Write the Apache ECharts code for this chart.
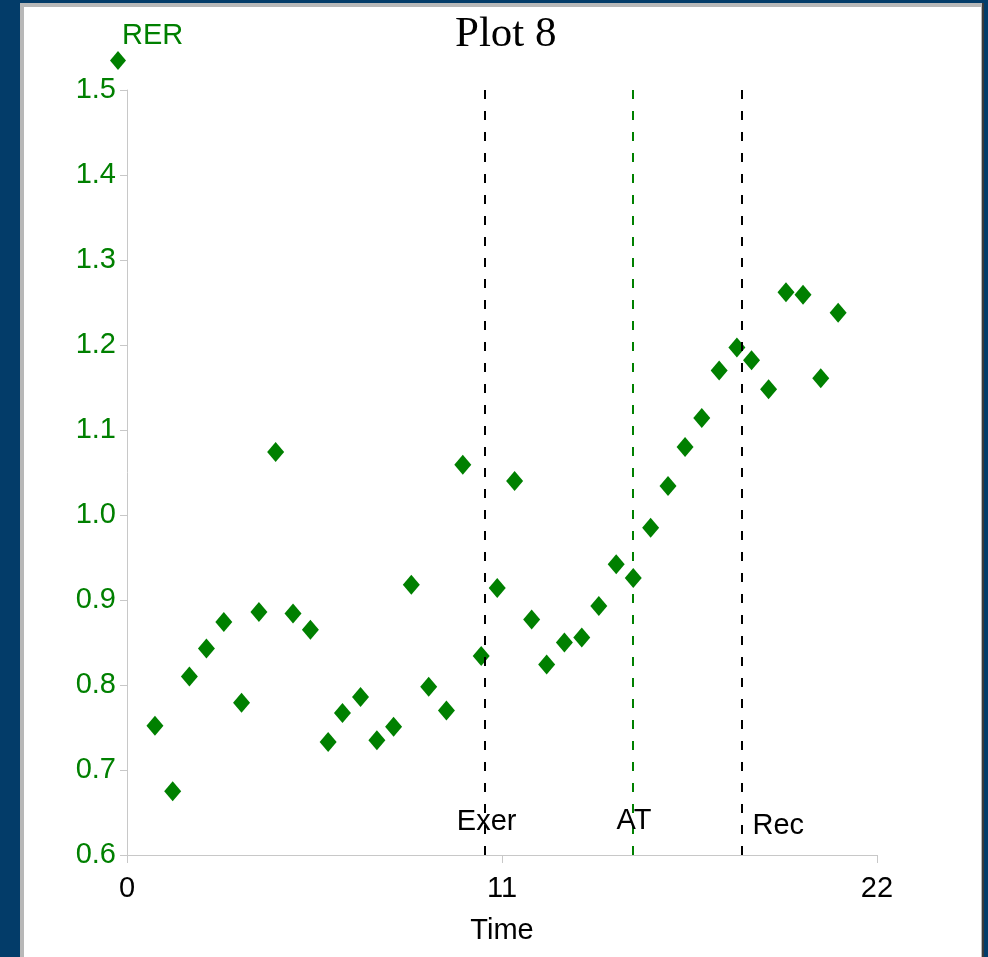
<!DOCTYPE html>
<html>
<head>
<meta charset="utf-8">
<script src="https://cdn.jsdelivr.net/npm/echarts@6/dist/echarts.min.js"></script>
<style>
  html, body { margin: 0; padding: 0; width: 988px; height: 957px; overflow: hidden; background: #033c69; }
  #frame { position: absolute; left: 20px; top: 3px; width: 964px; height: 980px; background: #3a3a3a; }
  #frame2 { position: absolute; left: 20px; top: 3px; width: 962px; height: 980px; background: #b8b8b8; }
  #panel { position: absolute; left: 24px; top: 7px; width: 957px; height: 980px; background: #ffffff; }
  #chart { position: absolute; left: 0; top: 0; width: 988px; height: 957px; }
</style>
</head>
<body>
<div id="frame"></div>
<div id="frame2"></div>
<div id="panel"></div>
<div id="chart"></div>
<script>
// ---- data ----
const times = [0.82, 1.34, 1.83, 2.33, 2.84, 3.36, 3.87, 4.36, 4.87, 5.38,
               5.90, 6.32, 6.85, 7.33, 7.82, 8.34, 8.85, 9.37, 9.85, 10.39,
               10.86, 11.37, 11.87, 12.31, 12.83, 13.34, 13.84, 14.35, 14.85, 15.36,
               15.87, 16.37, 16.86, 17.37, 17.89, 18.32, 18.82, 19.33, 19.83, 20.35, 20.86];
const rer = [0.752, 0.675, 0.810, 0.843, 0.874, 0.779, 0.886, 1.074, 0.884, 0.865,
             0.733, 0.767, 0.786, 0.735, 0.751, 0.918, 0.798, 0.770, 1.059, 0.834,
             0.914, 1.040, 0.877, 0.824, 0.850, 0.856, 0.893, 0.942, 0.926, 0.985,
             1.034, 1.080, 1.114, 1.170, 1.197, 1.182, 1.148, 1.262, 1.259, 1.161, 1.238];
const markerNames = ['Exer', 'AT', 'Rec'];
const markerTimes = [10.49, 14.84, 18.02];
const xTicks = [0, 11, 22];
const yTicks = [0.6, 0.7, 0.8, 0.9, 1.0, 1.1, 1.2, 1.3, 1.4, 1.5];

const GREEN = '#008000';
const FONT = 'Liberation Sans';
const markerColors = ['#000000', GREEN, '#000000'];
const markerLabelOffsets = [[2, -33], [1, -34], [37, -29]];

const chart = echarts.init(document.getElementById('chart'), null, { renderer: 'canvas' });

const option = {
  backgroundColor: 'transparent',
  animation: false,
  title: {
    text: 'Plot 8',
    left: 450,
    top: 8,
    textStyle: { fontFamily: 'Liberation Serif', fontSize: 43, fontWeight: 'normal', color: '#000' }
  },
  legend: {
    data: [{ name: 'RER', icon: 'diamond' }],
    left: 110,
    top: 51,
    padding: 0,
    itemWidth: 16,
    itemHeight: 19,
    formatter: function () { return ''; },
    selectedMode: false
  },
  grid: { left: 127, right: 111, top: 90, bottom: 102, containLabel: false },
  xAxis: {
    type: 'value',
    min: xTicks[0],
    max: xTicks[xTicks.length - 1],
    interval: xTicks[1] - xTicks[0],
    name: 'Time',
    nameLocation: 'middle',
    nameGap: 61,
    nameTextStyle: { fontFamily: FONT, fontSize: 29, color: '#000' },
    axisLine: { show: true, lineStyle: { color: '#c8c8c8', width: 1 } },
    axisTick: { show: true, length: 8, lineStyle: { color: '#c8c8c8' } },
    axisLabel: { fontFamily: FONT, fontSize: 29, color: '#000', margin: 19 },
    splitLine: { show: false }
  },
  yAxis: {
    type: 'value',
    min: yTicks[0],
    max: yTicks[yTicks.length - 1],
    interval: 0.1,
    name: 'RER',
    nameLocation: 'end',
    nameGap: 40,
    nameTextStyle: { fontFamily: FONT, fontSize: 29, color: GREEN, align: 'left', padding: [0, 0, 0, -5] },
    axisLine: { show: true, lineStyle: { color: '#c8c8c8', width: 1 } },
    axisTick: { show: true, length: 7, lineStyle: { color: '#c8c8c8' } },
    axisLabel: {
      fontFamily: FONT, fontSize: 29, color: GREEN, margin: 11,
      padding: [6, 0, 0, 0],
      formatter: function (v) { return v.toFixed(1); }
    },
    splitLine: { show: false }
  },
  series: [
    {
      name: 'RER',
      type: 'scatter',
      symbol: 'diamond',
      symbolSize: [17, 20],
      itemStyle: { color: GREEN, opacity: 1 },
      data: times.map((t, i) => [t, rer[i]]),
      markLine: {
        silent: true,
        symbol: ['none', 'none'],
        label: { show: false },
        data: markerTimes.map((t, i) => ({
          xAxis: t,
          lineStyle: { color: markerColors[i], type: [9, 12], width: 2, opacity: 1 }
        }))
      },
      markPoint: {
        silent: true,
        symbol: 'rect',
        symbolSize: 1,
        itemStyle: { color: 'rgba(0,0,0,0)' },
        data: markerTimes.map((t, i) => ({
          name: markerNames[i],
          coord: [t, yTicks[0]],
          label: {
            show: true,
            position: 'inside',
            offset: markerLabelOffsets[i],
            formatter: '{b}',
            fontFamily: FONT,
            fontSize: 29,
            color: '#000'
          }
        }))
      }
    }
  ]
};
chart.setOption(option);
</script>
</body>
</html>
